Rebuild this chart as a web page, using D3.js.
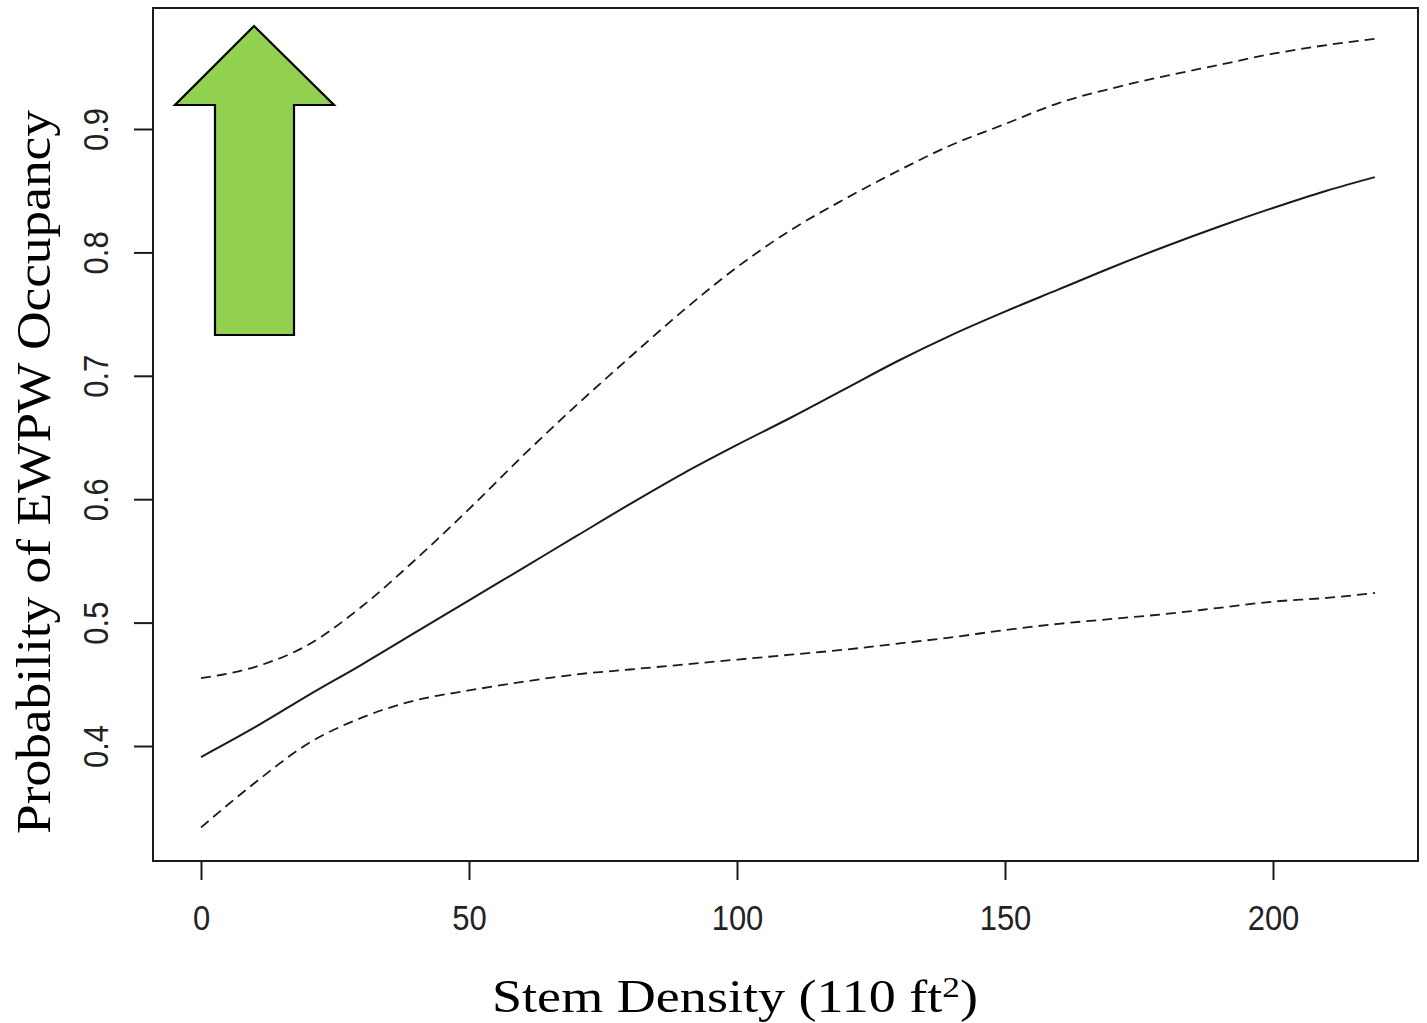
<!DOCTYPE html>
<html>
<head>
<meta charset="utf-8">
<script src="https://cdn.jsdelivr.net/npm/d3@7"></script>
<style>
  html, body { margin: 0; padding: 0; background: #fff; }
  svg { display: block; }
</style>
</head>
<body>
<svg id="chart" width="1427" height="1023"></svg>
<script>
// ---- data ----
const stemDensity = [0, 10, 20, 30, 40, 50, 60, 70, 80, 90, 100, 110, 120, 130, 140, 150, 160, 170, 180, 190, 200, 210, 219];
const fitted      = [0.391, 0.415, 0.441, 0.466, 0.492, 0.518, 0.544, 0.570, 0.596, 0.621, 0.644, 0.666, 0.689, 0.712, 0.733, 0.752, 0.770, 0.788, 0.805, 0.821, 0.836, 0.850, 0.861];
const upperCI     = [0.455, 0.464, 0.482, 0.513, 0.551, 0.592, 0.635, 0.676, 0.715, 0.753, 0.788, 0.818, 0.843, 0.866, 0.887, 0.904, 0.921, 0.933, 0.943, 0.952, 0.961, 0.968, 0.973];
const lowerCI     = [0.334, 0.370, 0.402, 0.423, 0.437, 0.445, 0.452, 0.458, 0.462, 0.466, 0.470, 0.474, 0.478, 0.483, 0.488, 0.494, 0.499, 0.503, 0.507, 0.512, 0.517, 0.520, 0.524];
const xTicks = [0, 50, 100, 150, 200];
const yTicks = [0.4, 0.5, 0.6, 0.7, 0.8, 0.9];
const xTitle = "Stem Density (110 ft";
const xTitleSup = "2";
const yTitle = "Probability of EWPW Occupancy";

// ---- layout ----
const svg = d3.select("#chart");
const frame = { left: 153, right: 1418, top: 8, bottom: 861 };
const x = d3.scaleLinear().domain([0, 200]).range([201, 1273]);
const y = d3.scaleLinear().domain([0.4, 0.9]).range([746, 129]);
const ink = "#1a1a1a";

// plot frame
svg.append("rect")
  .attr("x", frame.left).attr("y", frame.top)
  .attr("width", frame.right - frame.left).attr("height", frame.bottom - frame.top)
  .attr("fill", "none").attr("stroke", ink).attr("stroke-width", 2);

// x axis
const xAxis = svg.append("g").attr("transform", `translate(0,${frame.bottom})`)
  .call(d3.axisBottom(x).tickValues(xTicks).tickSize(19).tickPadding(21).tickFormat(d3.format("d")));
xAxis.select(".domain").attr("d", `M${x(0)},0H${x(200)}`).attr("stroke", ink).attr("stroke-width", 2);
xAxis.selectAll(".tick line").attr("stroke", ink).attr("stroke-width", 2);
xAxis.selectAll(".tick text")
  .attr("font-family", "'Liberation Sans', Arial, sans-serif")
  .attr("font-size", 31).attr("fill", "#222")
  .attr("transform", "scale(1,1.12)");

// y axis
const yAxis = svg.append("g").attr("transform", `translate(${frame.left},0)`)
  .call(d3.axisLeft(y).tickValues(yTicks).tickSize(19).tickFormat(d3.format(".1f")));
yAxis.select(".domain").attr("d", `M0,${y(0.4)}V${y(0.9)}`).attr("stroke", ink).attr("stroke-width", 2);
yAxis.selectAll(".tick line").attr("stroke", ink).attr("stroke-width", 2);
yAxis.selectAll(".tick text")
  .attr("font-family", "'Liberation Sans', Arial, sans-serif")
  .attr("font-size", 31).attr("fill", "#222")
  .attr("x", null).attr("dy", null)
  .attr("text-anchor", "middle")
  .attr("transform", "translate(-45,0) rotate(-90) scale(1,1.12)");

// lines
const line = (vals) => d3.line()
  .x((d, i) => x(stemDensity[i]))
  .y(d => y(d))
  .curve(d3.curveMonotoneX)(vals);

svg.append("path").attr("d", line(upperCI))
  .attr("fill", "none").attr("stroke", ink).attr("stroke-width", 1.8).attr("stroke-dasharray", "10,6");
svg.append("path").attr("d", line(lowerCI))
  .attr("fill", "none").attr("stroke", ink).attr("stroke-width", 1.8).attr("stroke-dasharray", "10,6");
svg.append("path").attr("d", line(fitted))
  .attr("fill", "none").attr("stroke", ink).attr("stroke-width", 2);

// green up arrow annotation
const arrowPts = [[254, 26], [334, 105], [294, 105], [294, 335], [215, 335], [215, 105], [175, 105]];
svg.append("polygon")
  .attr("points", arrowPts.map(p => p.join(",")).join(" "))
  .attr("fill", "#92D050").attr("stroke", "#000").attr("stroke-width", 2.2).attr("stroke-linejoin", "miter");

// axis titles
const xt = svg.append("text")
  .attr("x", 735).attr("y", 1012)
  .attr("text-anchor", "middle")
  .attr("font-family", "'Liberation Serif', 'Times New Roman', serif")
  .attr("font-size", 46).attr("fill", "#000")
  .attr("textLength", 486).attr("lengthAdjust", "spacingAndGlyphs");
xt.append("tspan").text(xTitle);
xt.append("tspan").attr("font-size", 30).attr("dy", -15).text(xTitleSup);
xt.append("tspan").attr("dy", 15).text(")");

svg.append("text")
  .attr("transform", "translate(50,472) rotate(-90)")
  .attr("text-anchor", "middle")
  .attr("font-family", "'Liberation Serif', 'Times New Roman', serif")
  .attr("font-size", 48).attr("fill", "#000")
  .attr("textLength", 724).attr("lengthAdjust", "spacingAndGlyphs")
  .text(yTitle);
</script>
</body>
</html>
